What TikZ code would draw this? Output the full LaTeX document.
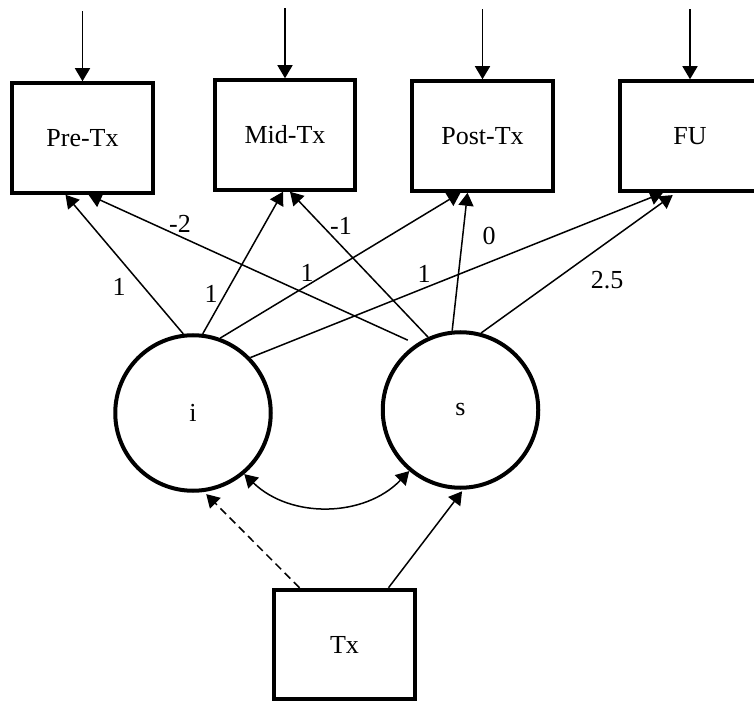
\documentclass[tikz,border=0pt]{standalone}
\usepackage{fontspec}
\setmainfont{Liberation Serif}
\usetikzlibrary{arrows.meta, positioning}

\begin{document}
\begin{tikzpicture}[%
  x=1pt, y=1pt,
  every node/.style={font=\fontsize{26}{30}\selectfont},
  obs/.style={draw, line width=4pt, minimum width=140.5pt, minimum height=109.5pt, inner sep=0pt},
  latent/.style={draw, circle, line width=4pt, minimum size=155.5pt, inner sep=0pt},
  lbl/.style={inner sep=1pt},
  arr/.style={-{Triangle[length=13pt, width=15pt]}, line width=1.5pt},
  dbl/.style={{Triangle[length=13pt, width=15pt]}-{Triangle[length=13pt, width=15pt]}, line width=1.5pt}
]
\useasboundingbox (0,0) rectangle (754,702);

% Repeated measures
\node[obs] (pre) at (82.5,564) {Pre-Tx};
\node[obs, right=58pt of pre, yshift=3pt] (mid) {Mid-Tx};
\node[obs, right=53pt of mid, yshift=-1pt] (post) {Post-Tx};
\node[obs, right=63pt of post] (fu) {FU};

% Residual arrows
\foreach \n in {pre,mid,post,fu}{
  \coordinate (\n-e) at ([yshift=70pt]\n.north);
  \draw[arr] (\n-e) -- (\n.north);
}

% Growth factors
\node[latent] (i) at (193,289) {i};
\node[latent, right=108pt of i, yshift=3pt] (s) {s};

% Treatment
\node[obs] (tx) at (344.5,57.5) {Tx};

% Intercept loadings
\draw[arr] (i.97) -- ([xshift=-17pt]pre.south);
\draw[arr] (i.83) -- ([xshift=-2pt]mid.south);
\draw[arr] (i.70) -- ([xshift=-22pt]post.south);
\draw[arr] (i.44) -- ([xshift=-27pt]fu.south);

% Slope loadings
\draw[arr, shorten <=9pt] (s.124) -- ([xshift=6pt]pre.south);
\draw[arr] (s.114) -- ([xshift=5pt]mid.south);
\draw[arr] (s.96) -- ([xshift=-15pt]post.south);
\draw[arr, shorten >=4pt] (s.75) -- ([xshift=-14pt]fu.south);

% Loading values
\node[lbl] (li-pre) at (119,415) {1};
\node[lbl] (li-mid) at (211,408) {1};
\node[lbl] (li-post) at (307,429) {1};
\node[lbl] (li-fu) at (424,428) {1};
\node[lbl] (ls-pre) at (180,478) {-2};
\node[lbl] (ls-mid) at (341,476) {-1};
\node[lbl] (ls-post) at (489,466) {0};
\node[lbl] (ls-fu) at (607,422) {2.5};

% Factor covariance
\draw[dbl] (i.-50) to[bend right=45] (s.-130);

% Treatment effects
\draw[arr, dash pattern=on 8pt off 5pt, shorten >=3pt] ([xshift=-45pt]tx.north) -- (i.-82);
\draw[arr, shorten >=2pt] ([xshift=44pt]tx.north) -- (s.-88);
\end{tikzpicture}
\end{document}
